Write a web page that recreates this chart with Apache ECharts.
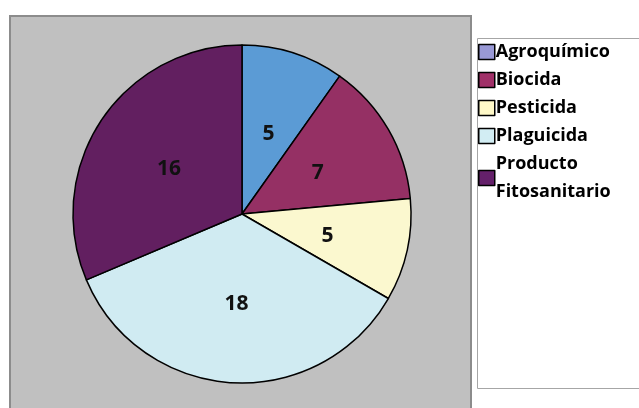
<!DOCTYPE html>
<html>
<head>
<meta charset="utf-8">
<script src="https://cdn.jsdelivr.net/npm/echarts@6/dist/echarts.min.js"></script>
<style>
html,body{margin:0;padding:0;background:#fff;}
#main{width:639px;height:408px;}
</style>
</head>
<body>
<div id="main"></div>
<script>
const categories = ['Agroquímico', 'Biocida', 'Pesticida', 'Plaguicida', 'Producto\nFitosanitario'];
const values = [5, 7, 5, 18, 16];
const sliceColors = ['#5b9bd5', '#953064', '#fbf8cf', '#d0ebf2', '#621f60'];
const legendColors = ['#9999d6', '#a03068', '#fff9c8', '#d2edf3', '#64206a'];

const chart = echarts.init(document.getElementById('main'), null, {renderer: 'canvas'});
const option = {
  animation: false,
  backgroundColor: '#ffffff',
  graphic: [
    {type: 'rect', z: -10, shape: {x: 10, y: 16, width: 461, height: 400},
     style: {fill: '#c0c0c0', stroke: '#8c8c8c', lineWidth: 2}},
    {type: 'rect', z: -10, shape: {x: 477.5, y: 38.5, width: 170, height: 350},
     style: {fill: '#ffffff', stroke: '#a6a6a6', lineWidth: 1}}
  ],
  legend: {
    orient: 'vertical',
    left: 478,
    top: 38,
    padding: 0,
    itemGap: 0,
    itemWidth: 16,
    itemHeight: 15,
    icon: 'rect',
    textStyle: {fontFamily: 'Open Sans', fontWeight: 'bold', fontSize: 18, color: '#000', lineHeight: 28, padding: [0, 0, 0, -4]},
    data: categories.map((c, i) => ({name: c, itemStyle: {color: legendColors[i], borderColor: '#000', borderWidth: 1.5}}))
  },
  series: [{
    type: 'pie',
    center: [242, 214],
    radius: 169,
    startAngle: 90,
    clockwise: true,
    itemStyle: {borderColor: '#000', borderWidth: 1.5},
    label: {
      position: 'inside',
      formatter: '{v|{c}}',
      rich: {v: {fontFamily: 'Open Sans', fontWeight: 'bold', fontSize: 21, color: '#111', padding: [6, 0, 0, 0]}}
    },
    labelLine: {show: false},
    emphasis: {disabled: true},
    data: categories.map((c, i) => ({name: c, value: values[i], itemStyle: {color: sliceColors[i]}}))
  }]
};
chart.setOption(option);
</script>
</body>
</html>
